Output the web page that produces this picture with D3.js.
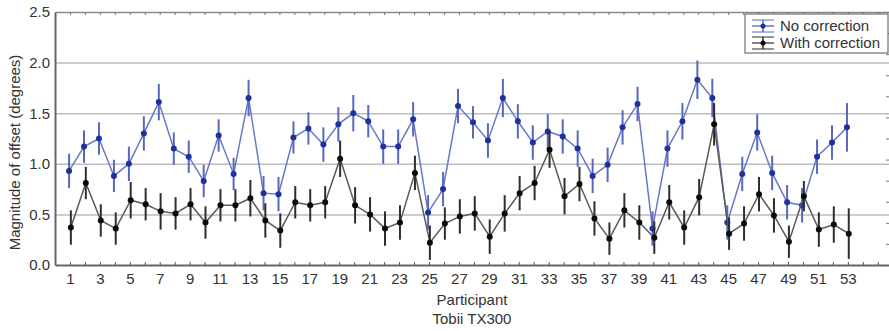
<!DOCTYPE html>
<html>
<head>
<meta charset="utf-8">
<script src="https://cdn.jsdelivr.net/npm/d3@7"></script>
<style>
  html, body { margin: 0; padding: 0; background: #fff; }
  svg { display: block; font-family: "Liberation Sans", Arial, sans-serif; }
</style>
</head>
<body>
<svg id="chart" width="889" height="331"></svg>
<script>
// participants 1..53
const participants = d3.range(1, 54);

// mean offset (degrees)
const noCorrection = [
  0.93, 1.17, 1.25, 0.88, 1.00, 1.30, 1.61, 1.15, 1.07, 0.83,
  1.28, 0.90, 1.65, 0.71, 0.70, 1.26, 1.35, 1.19, 1.39, 1.50,
  1.42, 1.17, 1.17, 1.44, 0.52, 0.75, 1.57, 1.41, 1.23, 1.65,
  1.42, 1.21, 1.32, 1.27, 1.15, 0.88, 0.99, 1.36, 1.59, 0.36,
  1.15, 1.42, 1.83, 1.65, 0.42, 0.90, 1.31, 0.91, 0.62, 0.59,
  1.07, 1.21, 1.36
];
const withCorrection = [
  0.37, 0.81, 0.44, 0.36, 0.64, 0.60, 0.53, 0.51, 0.60, 0.42,
  0.59, 0.59, 0.66, 0.44, 0.34, 0.62, 0.59, 0.62, 1.05, 0.59,
  0.50, 0.36, 0.42, 0.91, 0.22, 0.41, 0.48, 0.51, 0.28, 0.51,
  0.71, 0.81, 1.14, 0.68, 0.80, 0.46, 0.26, 0.54, 0.42, 0.27,
  0.62, 0.37, 0.67, 1.39, 0.31, 0.41, 0.70, 0.49, 0.23, 0.68,
  0.35, 0.40, 0.31
];

// half-length of the error bars
const noCorrectionErr = [
  0.17, 0.16, 0.16, 0.16, 0.17, 0.17, 0.18, 0.16, 0.16, 0.16,
  0.16, 0.16, 0.18, 0.17, 0.17, 0.16, 0.16, 0.17, 0.17, 0.18,
  0.16, 0.17, 0.17, 0.17, 0.17, 0.17, 0.17, 0.16, 0.17, 0.19,
  0.17, 0.17, 0.17, 0.17, 0.18, 0.17, 0.17, 0.17, 0.17, 0.17,
  0.18, 0.18, 0.19, 0.19, 0.17, 0.17, 0.18, 0.17, 0.17, 0.17,
  0.17, 0.17, 0.24
];
const withCorrectionErr = [
  0.17, 0.16, 0.16, 0.16, 0.18, 0.16, 0.18, 0.16, 0.16, 0.16,
  0.16, 0.16, 0.18, 0.17, 0.17, 0.16, 0.16, 0.16, 0.18, 0.18,
  0.17, 0.17, 0.17, 0.17, 0.17, 0.16, 0.17, 0.17, 0.17, 0.18,
  0.17, 0.17, 0.18, 0.18, 0.17, 0.17, 0.16, 0.17, 0.17, 0.16,
  0.17, 0.17, 0.18, 0.21, 0.16, 0.17, 0.17, 0.17, 0.16, 0.15,
  0.17, 0.18, 0.25
];

const yTicks = [0, 0.5, 1.0, 1.5, 2.0, 2.5];
const xLabelTicks = d3.range(1, 54, 2);

const series = [
  { name: 'No correction',   values: noCorrection,   err: noCorrectionErr,   dx: -0.06,
    line: '#6a78c8', bar: '#5968bf', dot: '#1e329e' },
  { name: 'With correction', values: withCorrection, err: withCorrectionErr, dx: 0.06,
    line: '#5a5a5a', bar: '#2e2e2e', dot: '#0a0a0a' },
];

const W = 889, H = 331;
const m = { top: 12, right: 0, bottom: 66, left: 55 };
const iw = W - m.left - m.right, ih = H - m.top - m.bottom;

const x = d3.scaleLinear().domain([0, 55.75]).range([0, iw]);
const y = d3.scaleLinear().domain([0, 2.5]).range([ih, 0]);
const yRight = d3.scaleLinear().domain([0, 12]).range([ih, 0]); // unlabelled right-hand ticks

const svg = d3.select('#chart');
const g = svg.append('g').attr('transform', `translate(${m.left},${m.top})`);

// gridlines
g.append('g')
  .call(d3.axisLeft(y).tickValues(yTicks.slice(1, -1)).tickSize(-iw).tickFormat(''))
  .call(a => a.select('.domain').remove())
  .selectAll('line').attr('stroke', '#bdbdbd').attr('stroke-width', 1.5);

// top border + inward ticks
g.append('g')
  .call(d3.axisBottom(x).tickValues(d3.range(1, 56)).tickSize(3).tickSizeOuter(0).tickFormat(''))
  .call(a => a.select('.domain').attr('stroke', '#8a8a8a').attr('stroke-width', 1.5))
  .selectAll('line').attr('stroke', '#777');

// right ticks
g.append('g').attr('transform', `translate(${iw},0)`)
  .call(d3.axisLeft(yRight).ticks(12).tickSize(3).tickSizeOuter(0).tickFormat(''))
  .call(a => a.select('.domain').attr('stroke', '#8a8a8a'))
  .selectAll('line').attr('stroke', '#777');

// bottom axis: inward ticks at every participant
g.append('g').attr('transform', `translate(0,${ih})`)
  .call(d3.axisTop(x).tickValues(d3.range(1, 56)).tickSize(3).tickSizeOuter(0).tickFormat(''))
  .call(a => a.select('.domain').attr('stroke', '#666').attr('stroke-width', 2))
  .selectAll('line').attr('stroke', '#555');

// bottom labels
g.append('g').attr('transform', `translate(0,${ih})`)
  .call(d3.axisBottom(x).tickValues(xLabelTicks).tickSize(0).tickPadding(8))
  .call(a => a.select('.domain').remove())
  .selectAll('text').attr('font-size', 15).attr('fill', '#333')
  .attr('font-family', '"Liberation Sans", Arial, sans-serif');

// left axis
g.append('g')
  .call(d3.axisLeft(y).tickValues(yTicks).tickSize(0).tickPadding(5).tickFormat(d3.format('.1f')))
  .call(a => a.select('.domain').attr('stroke', '#666').attr('stroke-width', 2))
  .selectAll('text').attr('font-size', 15).attr('fill', '#333')
  .attr('font-family', '"Liberation Sans", Arial, sans-serif');

// series
for (const s of series) {
  const pts = participants.map((p, i) => ({ p, v: s.values[i], e: s.err[i] }));
  const sg = g.append('g');
  sg.append('path').datum(pts)
    .attr('fill', 'none').attr('stroke', s.line).attr('stroke-width', 1.5)
    .attr('d', d3.line().x(d => x(d.p + s.dx)).y(d => y(d.v)));
  sg.selectAll('line.err').data(pts).join('line').attr('class', 'err')
    .attr('x1', d => x(d.p + s.dx)).attr('x2', d => x(d.p + s.dx))
    .attr('y1', d => y(d.v - d.e)).attr('y2', d => y(d.v + d.e))
    .attr('stroke', s.bar).attr('stroke-width', 2);
  sg.selectAll('circle').data(pts).join('circle')
    .attr('cx', d => x(d.p + s.dx)).attr('cy', d => y(d.v))
    .attr('r', 3).attr('fill', s.dot);
}

// legend
const lg = g.append('g').attr('transform', `translate(${iw - 144},2)`);
lg.append('rect').attr('width', 143).attr('height', 39)
  .attr('fill', '#fff').attr('stroke', '#555').attr('stroke-width', 1);
series.forEach((s, i) => {
  const row = lg.append('g').attr('transform', `translate(7,${12 + i * 17})`);
  row.append('line').attr('x1', 0).attr('x2', 22).attr('stroke', s.line).attr('stroke-width', 1.5);
  row.append('line').attr('x1', 0).attr('x2', 22).attr('y1', -6).attr('y2', -6).attr('stroke', s.bar).attr('stroke-width', 1);
  row.append('line').attr('x1', 0).attr('x2', 22).attr('y1', 6).attr('y2', 6).attr('stroke', s.bar).attr('stroke-width', 1);
  row.append('line').attr('x1', 11).attr('x2', 11).attr('y1', -6).attr('y2', 6).attr('stroke', s.bar).attr('stroke-width', 1.5);
  row.append('circle').attr('cx', 11).attr('r', 2.5).attr('fill', s.dot);
  row.append('text').attr('x', 28).attr('dy', '0.35em')
    .attr('font-size', 15).attr('fill', '#333').text(s.name);
});

// axis titles
svg.append('text').attr('x', m.left + iw / 2).attr('y', 305)
  .attr('text-anchor', 'middle').attr('font-size', 15).attr('fill', '#333').text('Participant');
svg.append('text').attr('x', m.left + iw / 2).attr('y', 324)
  .attr('text-anchor', 'middle').attr('font-size', 15).attr('fill', '#333').text('Tobii TX300');
svg.append('text')
  .attr('transform', `translate(20,${m.top + ih / 2 + 14}) rotate(-90)`)
  .attr('text-anchor', 'middle').attr('font-size', 15).attr('fill', '#333')
  .text('Magnitude of offset (degrees)');
</script>
</body>
</html>
